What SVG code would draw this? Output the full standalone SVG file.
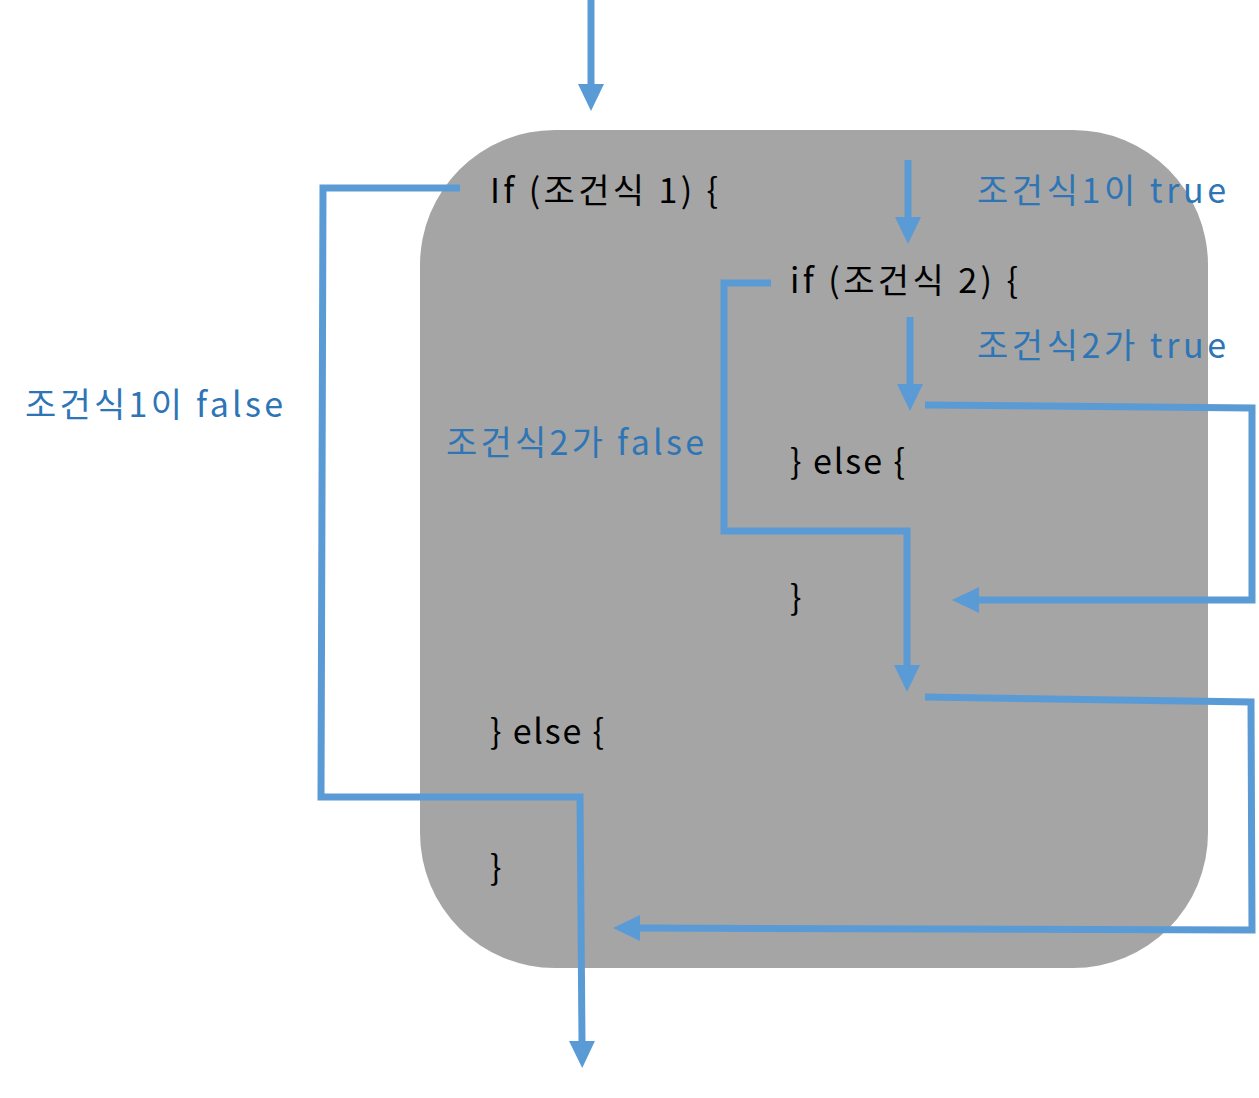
<svg xmlns="http://www.w3.org/2000/svg" width="1259" height="1098" viewBox="0 0 1259 1098">
<defs>
<marker id="ah" markerUnits="userSpaceOnUse" markerWidth="28" markerHeight="28" refX="0" refY="13" orient="auto">
<path d="M0,0 L27,13 L0,26 z" fill="#5B9BD5"/>
</marker>
<style>
.code{font-family:"Noto Sans CJK KR","Noto Sans",sans-serif;font-size:34px;fill:#000}
.lbl{font-family:"Noto Sans CJK KR","Noto Sans",sans-serif;font-size:34px;fill:#2E75B6}
.c{fill:none;stroke:#5B9BD5;stroke-width:7;stroke-linejoin:miter;marker-end:url(#ah)}
</style>
</defs>
<rect width="1259" height="1098" fill="#fff"/>
<g id="block">
<rect x="420" y="130" width="788" height="838" rx="135" ry="135" fill="#A5A5A5"/>
</g>
<g id="code">
<text class="code" x="490" y="203" textLength="228">If (조건식 1) {</text>
<text class="code" x="790" y="293" textLength="228">if (조건식 2) {</text>
<text class="code" x="790" y="474" textLength="115">} else {</text>
<text class="code" x="790" y="610">}</text>
<text class="code" x="490" y="744" textLength="114">} else {</text>
<text class="code" x="490" y="880">}</text>
</g>
<g id="labels">
<text class="lbl" x="977" y="203" textLength="249">조건식1이 true</text>
<text class="lbl" x="977" y="358" textLength="249">조건식2가 true</text>
<text class="lbl" x="25" y="417" textLength="258">조건식1이 false</text>
<text class="lbl" x="446" y="455" textLength="258">조건식2가 false</text>
</g>
<g id="connectors">
<path class="c" d="M591,0 L591,84"/>
<path class="c" d="M908,160 L908,217"/>
<path class="c" d="M910,317 L910,384"/>
<path class="c" d="M925,405 L1252,408 L1252,600 L979,600"/>
<path class="c" d="M771,283 L724,283 L724,531 L907,531 L907,665"/>
<path class="c" d="M925,697 L1251,702 L1252,930 L640,928"/>
<path class="c" d="M460,188 L323,188 L321,797 L580,797 L582,1041"/>
</g>
</svg>
